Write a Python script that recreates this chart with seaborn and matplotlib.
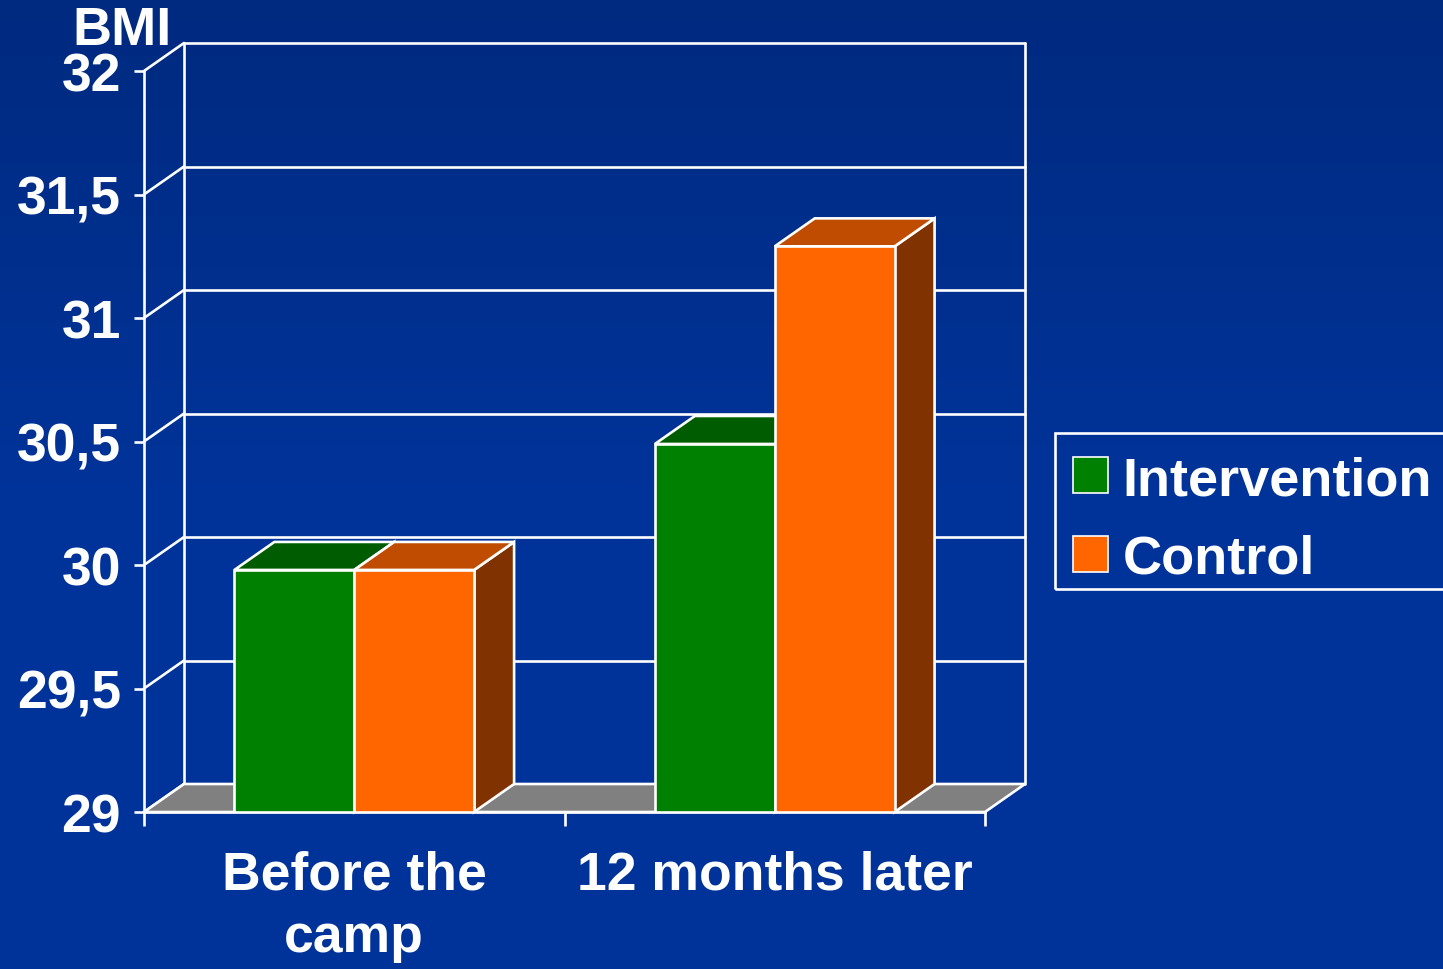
import numpy as np
import pandas as pd
import matplotlib
matplotlib.use("Agg")
import matplotlib.pyplot as plt
from matplotlib.patches import Polygon, Rectangle
from matplotlib.colors import LinearSegmentedColormap, to_rgb
import seaborn as sns

# ---- data ----
categories = ["Before the\ncamp", "12 months later"]
groups = ["Intervention", "Control"]
intervention = [29.98, 30.49]
control = [29.98, 31.29]
y_ticks = [29, 29.5, 30, 30.5, 31, 31.5, 32]
y_tick_labels = ["29", "29,5", "30", "30,5", "31", "31,5", "32"]
y_label = "BMI"

# ---- styling ----
sns.set_theme(style="white")
plt.rcParams["font.family"] = ["Liberation Sans", "DejaVu Sans"]
plt.rcParams["font.weight"] = "bold"

BG = "#003399"
FRONT = {"Intervention": "#008000", "Control": "#FF6600"}
TOP = {"Intervention": "#005C00", "Control": "#BF4C00"}
SIDE = {"Intervention": "#004000", "Control": "#803300"}
FLOOR = "#808080"
FS = 38.5

W, H = 1443, 970
fig = plt.figure(figsize=(W / 100, H / 100), dpi=100, facecolor=BG)

# subtle background gradient (darker at top)
bg_ax = fig.add_axes([0, 0, 1, 1], zorder=-10)
grad = np.linspace(0, 1, 256).reshape(-1, 1)
cmap = LinearSegmentedColormap.from_list("bg", ["#002A80", "#003399", "#003399"])
bg_ax.imshow(grad, aspect="auto", cmap=cmap, extent=[0, 1, 0, 1], origin="upper")
bg_ax.set_axis_off()

# front plot area in pixels
L, R, T, B = 144, 985, 72, 813
ax = fig.add_axes([L / W, 1 - B / H, (R - L) / W, (B - T) / H])
ax.set_facecolor("none")

df = pd.DataFrame({
    "cat": categories * 2,
    "group": [groups[0]] * 2 + [groups[1]] * 2,
    "bmi": intervention + control,
})
lw = 1.9
sns.barplot(data=df, x="cat", y="bmi", hue="group", order=categories,
            hue_order=groups, palette=FRONT, width=0.57, saturation=1,
            edgecolor="white", linewidth=lw, ax=ax, legend=False)

ax.set_xlim(-0.5, 1.5)
ax.set_ylim(29, 32)
x0, x1 = ax.get_xlim()
y0, y1 = ax.get_ylim()
# depth offsets in data units (40 px right, 28 px up)
dx = 40 * (x1 - x0) / (R - L)
dy = 28 * (y1 - y0) / (B - T)

# back wall grid lines and diagonal ticks
for v in y_ticks:
    if v > y0:
        ax.plot([x0 + dx, x1 + dx], [v + dy, v + dy], color="white", lw=lw,
                clip_on=False, zorder=0.5)
    ax.plot([x0, x0 + dx], [v, v + dy], color="white", lw=lw,
            clip_on=False, zorder=0.5)
for xv in (x0 + dx, x1 + dx):
    ax.plot([xv, xv], [y0 + dy, y1 + dy], color="white", lw=lw,
            clip_on=False, zorder=0.5)

# floor
floor = Polygon([(x0, y0), (x1, y0), (x1 + dx, y0 + dy), (x0 + dx, y0 + dy)],
                closed=True, facecolor=FLOOR, edgecolor="white", lw=lw,
                clip_on=False, zorder=1)
ax.add_patch(floor)

# 3D faces for each bar
bars = sorted([p for p in ax.patches if p is not floor and p.get_height() > 0],
              key=lambda p: p.get_x())
for i, p in enumerate(bars):
    bx0 = p.get_x()
    bx1 = bx0 + p.get_width()
    v = p.get_height()
    grp = "Intervention" if np.allclose(p.get_facecolor()[:3],
                                        to_rgb(FRONT["Intervention"])) else "Control"
    z = 2 + i * 0.1
    side = Polygon([(bx1, y0), (bx1 + dx, y0 + dy), (bx1 + dx, v + dy), (bx1, v)],
                   closed=True, facecolor=SIDE[grp], edgecolor="white", lw=lw,
                   clip_on=False, zorder=z)
    top = Polygon([(bx0, v), (bx1, v), (bx1 + dx, v + dy), (bx0 + dx, v + dy)],
                  closed=True, facecolor=TOP[grp], edgecolor="white", lw=lw,
                  clip_on=False, zorder=z)
    ax.add_patch(side)
    ax.add_patch(top)
    p.set_zorder(z + 0.05)
    p.set_clip_on(True)

# axes / ticks
for s in ("top", "right"):
    ax.spines[s].set_visible(False)
for s in ("left", "bottom"):
    ax.spines[s].set_color("white")
    ax.spines[s].set_linewidth(lw)
    ax.spines[s].set_zorder(3)

ax.set_yticks(y_ticks)
ax.set_yticklabels(y_tick_labels)
ax.set_xticks(range(len(categories)))
ax.set_xticklabels(categories, linespacing=1.32)
ax.set_xticks([-0.5, 0.5, 1.5], minor=True)
ax.tick_params(axis="y", colors="white", labelsize=FS, length=7.5, width=lw,
               direction="out", pad=9, left=True)
ax.tick_params(axis="x", which="major", colors="white", labelsize=FS, length=0, pad=27)
ax.tick_params(axis="x", which="minor", colors="white", length=10, width=lw,
               direction="out", bottom=True)
for t in ax.get_xticklabels() + ax.get_yticklabels():
    t.set_fontweight("bold")
    t.set_color("white")
ax.set_xlabel("")
ax.set_ylabel("")

fig.text(72 / W, 1 - 45 / H, y_label, color="white", fontsize=FS + 0.5,
         fontweight="bold", ha="left", va="baseline")

# legend (frame drawn separately so its box matches the reference)
handles = [Rectangle((0, 0), 1, 1, facecolor=FRONT[g], edgecolor="white", lw=1.2)
           for g in groups]
leg = fig.legend(handles, groups, loc="upper left",
                 bbox_to_anchor=(1057 / W, 1 - 440 / H),
                 fontsize=FS + 0.5, frameon=False,
                 handlelength=0.64, handleheight=0.66, handletextpad=0.27,
                 borderpad=0.3, labelspacing=0.53, borderaxespad=0)
for t in leg.get_texts():
    t.set_color("white")
    t.set_fontweight("bold")
frame = Rectangle((1055 / W, 1 - 590 / H), (1460 - 1055) / W, (590 - 434) / H,
                  transform=fig.transFigure, facecolor="none", edgecolor="white",
                  lw=lw, clip_on=False)
fig.add_artist(frame)

fig.savefig("out.png", dpi=100, facecolor=BG)
